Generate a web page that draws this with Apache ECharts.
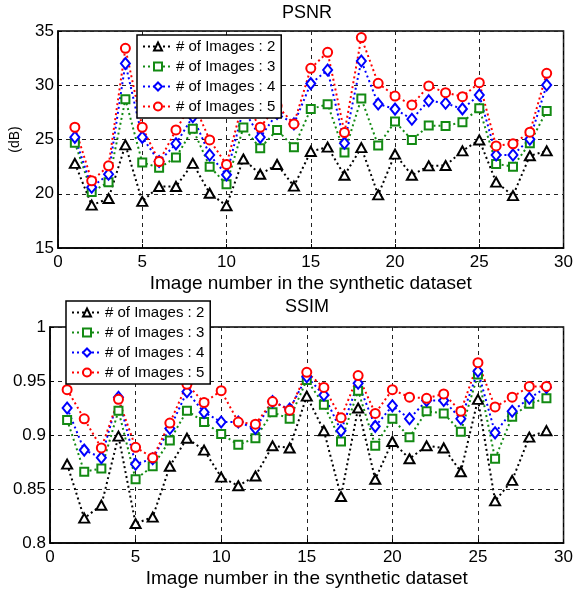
<!DOCTYPE html>
<html>
<head>
<meta charset="utf-8">
<title>PSNR / SSIM</title>
<script src="https://cdn.jsdelivr.net/npm/echarts@6/dist/echarts.min.js"></script>
<style>
  html, body { margin: 0; padding: 0; background: #fff; }
  #chart { width: 576px; height: 592px; }
</style>
</head>
<body>
<div id="chart"></div>
<script>
// image numbers 1..29
const imageNo = [1,2,3,4,5,6,7,8,9,10,11,12,13,14,15,16,17,18,19,20,21,22,23,24,25,26,27,28,29];

// PSNR (dB)
const psnr2 = [22.8, 18.95, 19.56, 24.5, 19.3, 20.67, 20.67, 22.8, 20.05, 18.9, 23.2, 21.8, 22.7, 20.7, 23.9, 24.3, 21.7, 24.25, 19.9, 23.65, 21.7, 22.57, 22.6, 23.95, 24.96, 21.07, 19.83, 23.5, 23.95];
const psnr3 = [24.7, 20.17, 21.07, 28.7, 22.88, 22.4, 23.34, 25.98, 22.5, 20.88, 26.1, 24.2, 25.88, 24.29, 27.8, 28.25, 23.8, 28.77, 24.44, 26.65, 24.96, 26.28, 26.25, 26.6, 27.88, 22.75, 22.5, 24.66, 27.63];
const psnr4 = [25.2, 20.6, 21.8, 32.0, 25.2, 22.97, 24.6, 27.1, 23.58, 21.74, 27.8, 25.2, 27.4, 26.44, 30.15, 31.4, 24.66, 32.24, 28.28, 27.8, 26.87, 28.58, 28.34, 27.82, 29.1, 23.58, 23.58, 25.03, 30.03];
const psnr5 = [26.13, 21.19, 22.57, 33.4, 26.13, 22.97, 25.88, 28.5, 24.96, 22.7, 28.6, 26.13, 28.1, 26.44, 31.56, 33.04, 25.64, 34.39, 30.18, 29.0, 28.19, 29.94, 29.32, 28.95, 30.24, 24.41, 24.6, 25.67, 31.1];

// SSIM
const ssim2 = [0.873, 0.823, 0.835, 0.899, 0.818, 0.824, 0.871, 0.897, 0.886, 0.861, 0.853, 0.862, 0.890, 0.888, 0.936, 0.904, 0.843, 0.925, 0.859, 0.894, 0.878, 0.890, 0.888, 0.866, 0.933, 0.839, 0.858, 0.898, 0.904];
const ssim3 = [0.914, 0.866, 0.869, 0.9225, 0.859, 0.871, 0.895, 0.9225, 0.912, 0.901, 0.891, 0.897, 0.921, 0.915, 0.951, 0.928, 0.894, 0.941, 0.890, 0.915, 0.898, 0.922, 0.920, 0.903, 0.956, 0.878, 0.917, 0.929, 0.934];
const ssim4 = [0.925, 0.886, 0.879, 0.935, 0.873, 0.878, 0.906, 0.940, 0.921, 0.912, 0.912, 0.906, 0.931, 0.924, 0.954, 0.937, 0.904, 0.948, 0.908, 0.927, 0.915, 0.932, 0.932, 0.915, 0.959, 0.902, 0.922, 0.934, 0.944];
const ssim5 = [0.942, 0.915, 0.888, 0.933, 0.8886, 0.879, 0.911, 0.947, 0.930, 0.941, 0.912, 0.910, 0.931, 0.923, 0.958, 0.944, 0.916, 0.955, 0.920, 0.942, 0.935, 0.934, 0.938, 0.922, 0.967, 0.926, 0.935, 0.945, 0.945];

const seriesNames = ['# of Images : 2', '# of Images : 3', '# of Images : 4', '# of Images : 5'];

const font = '"Liberation Sans", Arial, Helvetica, sans-serif';
const colors = ['#000000', '#138a13', '#0000ff', '#ff0000'];
const symbols = ['emptyTriangle', 'emptyRect', 'emptyDiamond', 'emptyCircle'];
const sizes = [[10, 9], 8, [9, 11], 9];

function pairs(ys) {
  return imageNo.map((x, i) => [x, ys[i]]);
}

function makeSeries(list, gi) {
  return list.map((ys, k) => ({
    name: seriesNames[k],
    type: 'line',
    xAxisIndex: gi,
    yAxisIndex: gi,
    data: pairs(ys),
    symbol: symbols[k],
    symbolSize: sizes[k],
    showAllSymbol: true,
    animation: false,
    lineStyle: { color: colors[k], width: 2, type: [2, 3] },
    itemStyle: { color: colors[k], borderColor: colors[k], borderWidth: 2 }
  }));
}

function xAxis(gi) {
  return {
    type: 'value',
    gridIndex: gi,
    min: 0,
    max: 30,
    interval: 5,
    name: 'Image number in the synthetic dataset',
    nameLocation: 'middle',
    nameGap: 26,
    nameTextStyle: { color: '#000', fontSize: 19, fontFamily: font },
    axisLine: { lineStyle: { color: '#000', width: 1.5 } },
    axisTick: { inside: true, length: 4, lineStyle: { color: '#000' } },
    axisLabel: { color: '#000', fontSize: 17, fontFamily: font, margin: 6 },
    splitLine: { show: true, lineStyle: { color: '#222', type: [4, 4], width: 1 } }
  };
}

function yAxis(gi, min, max, step, name) {
  return {
    type: 'value',
    gridIndex: gi,
    min: min,
    max: max,
    interval: step,
    name: name,
    nameLocation: 'middle',
    nameGap: 36,
    nameRotate: 90,
    nameTextStyle: { color: '#000', fontSize: 14, fontFamily: font },
    axisLine: { show: true, lineStyle: { color: '#000', width: 1.5 } },
    axisTick: { show: true, inside: true, length: 4, lineStyle: { color: '#000' } },
    axisLabel: { color: '#000', fontSize: 17, fontFamily: font, margin: 4 },
    splitLine: { show: true, lineStyle: { color: '#222', type: [4, 4], width: 1 } }
  };
}

function legend(id, left, top) {
  return {
    id: id,
    data: seriesNames,
    orient: 'vertical',
    left: left,
    top: top,
    z: 10,
    padding: [4, 6, 4, 5],
    itemGap: 5,
    itemWidth: 30,
    itemHeight: 10,
    backgroundColor: '#fff',
    borderColor: '#000',
    borderWidth: 1.5,
    borderRadius: 0,
    textStyle: { color: '#000', fontSize: 15, fontFamily: font, padding: [0, 0, 0, -2] }
  };
}

const chart = echarts.init(document.getElementById('chart'));

const psnrSeries = makeSeries([psnr2, psnr3, psnr4, psnr5], 0);
const ssimSeries = makeSeries([ssim2, ssim3, ssim4, ssim5], 1);

chart.setOption({
  backgroundColor: '#fff',
  animation: false,
  title: [
    { text: 'PSNR', left: 307, top: 4, padding: 0, textAlign: 'center',
      textStyle: { color: '#000', fontSize: 18, fontWeight: 'normal', fontFamily: font } },
    { text: 'SSIM', left: 307, top: 298, padding: 0, textAlign: 'center',
      textStyle: { color: '#000', fontSize: 18, fontWeight: 'normal', fontFamily: font } }
  ],
  legend: [legend('l0', 137, 35), legend('l1', 66, 301)],
  grid: [
    { left: 50, right: 12, top: 31, height: 217, show: true, borderColor: '#000', borderWidth: 1.5 },
    { left: 50, right: 12, top: 327, height: 216, show: true, borderColor: '#000', borderWidth: 1.5 }
  ],
  xAxis: [xAxis(0), xAxis(1)],
  yAxis: [yAxis(0, 15, 35, 5, '(dB)'), yAxis(1, 0.8, 1, 0.05, '')],
  series: psnrSeries.concat(ssimSeries)
});
</script>
</body>
</html>
